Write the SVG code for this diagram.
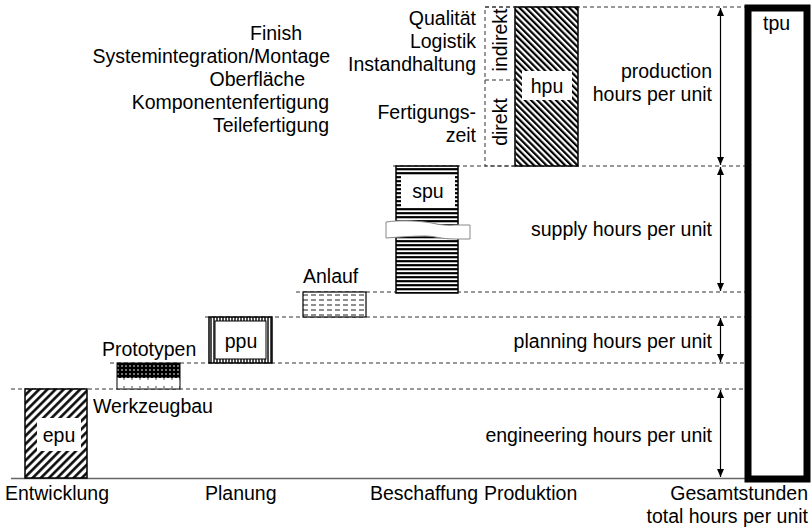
<svg xmlns="http://www.w3.org/2000/svg" width="811" height="530" viewBox="0 0 811 530">
  <style>
    text { font-family: "Liberation Sans", Arial, sans-serif; font-size: 19.5px; fill: #000; }
    .r { text-anchor: end; }
    .m { text-anchor: middle; }
    .guide { stroke: #333; stroke-width: 1; stroke-dasharray: 4 3; fill: none; }
    .box { stroke: #000; stroke-width: 1.5; }
    .lbl { fill: #fff; stroke: none; }
    .dim { stroke: #000; stroke-width: 1.2; fill: none; }
  </style>
  <defs>
    <pattern id="hatchFwd" patternUnits="userSpaceOnUse" width="5.8" height="5.8" patternTransform="rotate(45)">
      <rect width="5.8" height="5.8" fill="#fff"/>
      <line x1="1.4" y1="0" x2="1.4" y2="5.8" stroke="#000" stroke-width="2.5"/>
    </pattern>
    <pattern id="hatchBack" patternUnits="userSpaceOnUse" width="4.4" height="4.4" patternTransform="rotate(-45)">
      <rect width="4.4" height="4.4" fill="#fff"/>
      <line x1="1.1" y1="0" x2="1.1" y2="4.4" stroke="#000" stroke-width="2.2"/>
    </pattern>
    <pattern id="horiz" patternUnits="userSpaceOnUse" width="6" height="4">
      <rect width="6" height="4" fill="#fff"/>
      <line x1="0" y1="1.2" x2="6" y2="1.2" stroke="#000" stroke-width="2.2"/>
    </pattern>
    <pattern id="vert" patternUnits="userSpaceOnUse" width="3" height="6">
      <rect width="3" height="6" fill="#fff"/>
      <line x1="1" y1="0" x2="1" y2="6" stroke="#000" stroke-width="1.4"/>
    </pattern>
    <pattern id="darkDots" patternUnits="userSpaceOnUse" width="4" height="4">
      <rect width="4" height="4" fill="#000"/>
      <circle cx="2" cy="2" r="0.8" fill="#fff"/>
    </pattern>
    <pattern id="lightDots" patternUnits="userSpaceOnUse" width="8" height="8" x="2" y="377">
      <rect width="8" height="8" fill="#fff"/>
      <circle cx="2" cy="2" r="0.7" fill="#000"/>
    </pattern>
    <pattern id="dashRows" patternUnits="userSpaceOnUse" width="8" height="5" x="303" y="292">
      <rect width="8" height="5" fill="#fff"/>
      <line x1="0" y1="3" x2="5" y2="3" stroke="#333" stroke-width="1.1"/>
    </pattern>
    <marker id="tip" viewBox="0 0 8 10" refX="8" refY="5" markerWidth="8" markerHeight="10" markerUnits="userSpaceOnUse" orient="auto-start-reverse">
      <path d="M0,1.5 L8,5 L0,8.5 Z" fill="#000"/>
    </marker>
  </defs>

  <!-- level guides -->
  <g id="guides">
    <line class="guide" x1="485" y1="7" x2="745" y2="7"/>
    <line class="guide" x1="393" y1="166" x2="745" y2="166"/>
    <line class="guide" x1="296" y1="292" x2="745" y2="292"/>
    <line class="guide" x1="205" y1="317" x2="745" y2="317"/>
    <line class="guide" x1="110" y1="363" x2="745" y2="363"/>
    <line class="guide" x1="11" y1="389" x2="745" y2="389"/>
    <line x1="11" y1="478.5" x2="745" y2="478.5" stroke="#666" stroke-width="1.6"/>
  </g>

  <!-- engineering -->
  <g id="epu">
    <rect class="box" x="25" y="389" width="62" height="89" fill="url(#hatchFwd)"/>
    <rect class="lbl" x="37" y="418" width="44" height="33"/>
    <text x="59" y="442" class="m">epu</text>
  </g>
  <g id="werkzeugbau"><text x="93" y="413">Werkzeugbau</text></g>

  <!-- prototypes -->
  <g id="prototypen">
    <rect x="117" y="363" width="63" height="15" fill="url(#darkDots)"/>
    <rect x="117" y="378" width="63" height="11" fill="url(#lightDots)"/>
    <rect x="117" y="363" width="63" height="26" fill="none" stroke="#000" stroke-width="1"/>
    <text x="102" y="356">Prototypen</text>
  </g>

  <!-- planning -->
  <g id="ppu">
    <rect class="box" x="209" y="317" width="63" height="46" fill="url(#vert)"/>
    <rect x="215" y="321" width="51" height="38" fill="#fff" stroke="#000" stroke-width="1"/>
    <text x="241" y="348" class="m">ppu</text>
  </g>

  <!-- ramp-up -->
  <g id="anlauf">
    <rect x="303" y="292" width="63" height="25" fill="url(#dashRows)" stroke="#000" stroke-width="1.2"/>
    <text x="303" y="283">Anlauf</text>
  </g>

  <!-- supply -->
  <g id="spu">
    <rect class="box" x="396" y="166" width="62" height="127" fill="url(#horiz)"/>
    <rect class="lbl" x="401" y="175" width="54" height="32"/>
    <text x="428" y="198" class="m">spu</text>
    <path d="M386,222 C400,220 415,221 425,222 C435,223 440,226 455,225 L470,225 L470,239 L455,239 C440,239 435,236 425,236 C412,236 400,237 386,238 Z" fill="#fff" stroke="#888" stroke-width="1"/>
  </g>

  <!-- production -->
  <g id="hpu">
    <rect class="box" x="515" y="7" width="63" height="159" fill="url(#hatchBack)"/>
    <rect class="lbl" x="522" y="71" width="50" height="29"/>
    <text x="547" y="93" class="m">hpu</text>
  </g>
  <g id="direktIndirekt">
    <rect class="guide" x="485" y="7" width="30" height="159"/>
    <line class="guide" x1="485" y1="80" x2="515" y2="80"/>
    <text class="m" transform="translate(507,40) rotate(-90)">indirekt</text>
    <text class="m" transform="translate(507,122) rotate(-90)">direkt</text>
  </g>
  <g id="productionTexts">
    <text x="476" y="25" class="r">Qualität</text>
    <text x="476" y="48" class="r">Logistik</text>
    <text x="476" y="71" class="r">Instandhaltung</text>
    <text x="476" y="119" class="r">Fertigungs-</text>
    <text x="476" y="142" class="r">zeit</text>
  </g>
  <g id="productTexts">
    <text x="302" y="40" class="r">Finish</text>
    <text x="330" y="63" class="r">Systemintegration/Montage</text>
    <text x="305" y="86" class="r">Oberfläche</text>
    <text x="329" y="109" class="r">Komponentenfertigung</text>
    <text x="329" y="132" class="r">Teilefertigung</text>
  </g>

  <!-- total -->
  <g id="tpu">
    <rect x="748" y="8" width="59" height="471" fill="#fff" stroke="#000" stroke-width="7"/>
    <text x="763" y="30">tpu</text>
  </g>

  <!-- dimension arrows -->
  <g id="connectors">
    <line class="dim" x1="720.5" y1="8" x2="720.5" y2="165" marker-start="url(#tip)" marker-end="url(#tip)"/>
    <line class="dim" x1="720.5" y1="167" x2="720.5" y2="291" marker-start="url(#tip)" marker-end="url(#tip)"/>
    <line class="dim" x1="720.5" y1="318" x2="720.5" y2="362" marker-start="url(#tip)" marker-end="url(#tip)"/>
    <line class="dim" x1="720.5" y1="390" x2="720.5" y2="477" marker-start="url(#tip)" marker-end="url(#tip)"/>
  </g>
  <g id="dimLabels">
    <text x="712" y="78" class="r">production</text>
    <text x="712" y="101" class="r">hours per unit</text>
    <text x="712" y="236" class="r">supply hours per unit</text>
    <text x="712" y="348" class="r">planning hours per unit</text>
    <text x="712" y="442" class="r">engineering hours per unit</text>
  </g>

  <!-- phase axis -->
  <g id="axisLabels">
    <text x="5" y="500">Entwicklung</text>
    <text x="205" y="500">Planung</text>
    <text x="370" y="500">Beschaffung</text>
    <text x="484" y="500">Produktion</text>
    <text x="808" y="500" class="r">Gesamtstunden</text>
    <text x="808" y="523" class="r">total hours per unit</text>
  </g>
</svg>
